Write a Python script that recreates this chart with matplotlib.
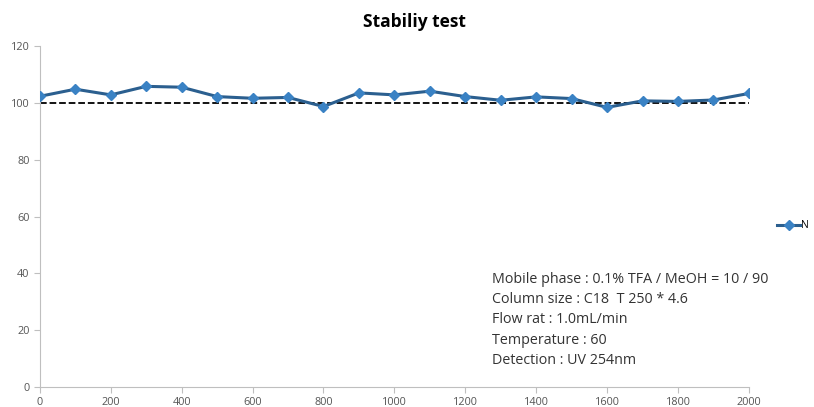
import numpy as np
import matplotlib
matplotlib.use("Agg")
import matplotlib.pyplot as plt

FLOW = [0, 100, 200, 300, 400, 500, 600, 700, 800, 900, 1000,
        1100, 1200, 1300, 1400, 1500, 1600, 1700, 1800, 1900, 2000]
N = [102.3, 104.8, 102.8, 105.8, 105.5, 102.2, 101.6, 101.9, 98.7, 103.5, 102.8,
     104.1, 102.2, 100.9, 102.1, 101.5, 98.4, 100.7, 100.5, 101.0, 103.3]
REF = 100
INFO = ["Mobile phase : 0.1% TFA / MeOH = 10 / 90",
        "Column size : C18  T 250 * 4.6",
        "Flow rat : 1.0mL/min",
        "Temperature : 60",
        "Detection : UV 254nm"]

plt.rcParams["font.family"] = ["Open Sans", "DejaVu Sans"]
fig = plt.figure(figsize=(8.14, 4.07), dpi=100)
ax = fig.add_axes([0.049, 0.049, 0.871, 0.838])

ax.plot(FLOW, N, "-D", color="#2b5f8f", lw=2.2, ms=5.5,
        mfc="#3a82c4", mec="#3a82c4", label="N", zorder=3)
ax.plot([FLOW[0], FLOW[-1]], [REF, REF], "--", color="black", lw=1.3, zorder=2)

ax.set_xlim(0, 2000); ax.set_ylim(0, 120)
ax.set_xticks(np.arange(0, 2001, 200)); ax.set_yticks(np.arange(0, 121, 20))
ax.tick_params(labelsize=7.8, colors="#555555", length=4, color="#bfbfbf")
for sp in ["top", "right"]:
    ax.spines[sp].set_visible(False)
for sp in ["left", "bottom"]:
    ax.spines[sp].set_color("#bfbfbf")

fig.text(0.509, 0.947, "Stabiliy test", ha="center", va="center", fontsize=12.5, fontweight="bold")
for i, s in enumerate(INFO):
    fig.text(0.604, 0.313 - i * 0.0495, s, ha="left", va="center", fontsize=10.3, color="#333333")

leg = fig.legend(loc="center left", bbox_to_anchor=(0.955, 0.445), frameon=False,
                 fontsize=7.5, handlelength=2.2, handletextpad=0.1, borderpad=0, borderaxespad=0)
fig.savefig("out.png", dpi=100, facecolor="white")
